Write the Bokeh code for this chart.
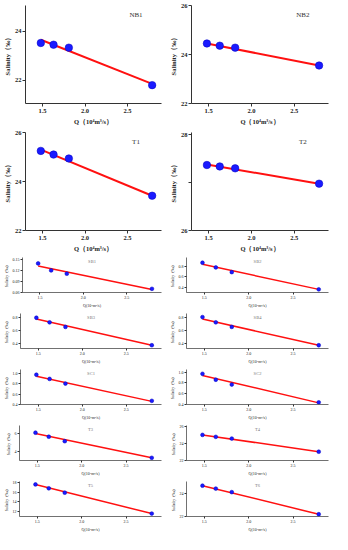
from bokeh.plotting import figure
from bokeh.layouts import column, row
from bokeh.models import FixedTicker, Range1d, Label, NumeralTickFormatter
from bokeh.embed import file_html
from bokeh.resources import INLINE

# ---------------- data ----------------
q = [1.48, 1.63, 1.81, 2.79]          # Q (10^4 m3/s)
q_fit = [1.48, 2.79]                  # extent of the fitted line
x_ticks = [1.5, 2.0, 2.5]

names = ["NB1", "NB2", "T1", "T2", "SB1", "SB2", "SB3", "SB4",
         "SC1", "SC2", "T3", "T4", "T5", "T6"]

sal_NB1 = [23.52, 23.45, 23.33, 21.80]
sal_NB2 = [24.45, 24.36, 24.28, 23.55]
sal_T1 = [25.25, 25.10, 24.94, 23.42]
sal_T2 = [27.37, 27.34, 27.30, 26.98]
sal_SB1 = [0.139, 0.120, 0.111, 0.070]
sal_SB2 = [0.87, 0.78, 0.69, 0.36]
sal_SB3 = [0.79, 0.72, 0.65, 0.37]
sal_SB4 = [0.80, 0.72, 0.65, 0.37]
sal_SC1 = [0.97, 0.89, 0.80, 0.47]
sal_SC2 = [0.97, 0.86, 0.77, 0.44]
sal_T3 = [6.1, 5.65, 5.15, 3.3]
sal_T4 = [25.0, 24.77, 24.57, 23.03]
sal_T5 = [17.6, 16.8, 15.9, 11.6]
sal_T6 = [24.73, 24.47, 24.16, 22.2]

fit_NB1 = [23.65, 21.85]
fit_NB2 = [24.45, 23.55]
fit_T1 = [25.30, 23.42]
fit_T2 = [27.38, 26.98]
fit_SB1 = [0.132, 0.068]
fit_SB2 = [0.84, 0.36]
fit_SB3 = [0.77, 0.37]
fit_SB4 = [0.77, 0.37]
fit_SC1 = [0.94, 0.46]
fit_SC2 = [0.94, 0.43]
fit_T3 = [6.0, 3.3]
fit_T4 = [25.0, 23.03]
fit_T5 = [17.6, 11.6]
fit_T6 = [24.73, 22.2]

yrange = {
    "NB1": (21.05, 25.05), "NB2": (22, 26), "T1": (22, 26), "T2": (26, 28.05),
    "SB1": (0.06, 0.155), "SB2": (0.30, 0.97), "SB3": (0.32, 0.855),
    "SB4": (0.32, 0.855), "SC1": (0.40, 1.07), "SC2": (0.40, 1.05),
    "T3": (3.0, 6.9), "T4": (22, 26.1), "T5": (11.0, 18.2), "T6": (22, 25.1),
}
yticks = {
    "NB1": [22, 24], "NB2": [22, 24, 26], "T1": [22, 24, 26], "T2": [26, 27, 28],
    "SB1": [0.06, 0.09, 0.12, 0.15], "SB2": [0.4, 0.6, 0.8],
    "SB3": [0.4, 0.6, 0.8], "SB4": [0.4, 0.6, 0.8],
    "SC1": [0.4, 0.6, 0.8, 1.0], "SC2": [0.4, 0.6, 0.8, 1.0],
    "T3": [4, 6], "T4": [22, 24, 26], "T5": [12, 14, 16, 18], "T6": [22, 24],
}
yfmt = {
    "NB1": "0", "NB2": "0", "T1": "0", "T2": "0", "SB1": "0.00", "SB2": "0.0",
    "SB3": "0.0", "SB4": "0.0", "SC1": "0.0", "SC2": "0.0", "T3": "0",
    "T4": "0", "T5": "0", "T6": "0",
}
hidden_labels = {"T2": [27]}

sal = dict(NB1=sal_NB1, NB2=sal_NB2, T1=sal_T1, T2=sal_T2, SB1=sal_SB1,
           SB2=sal_SB2, SB3=sal_SB3, SB4=sal_SB4, SC1=sal_SC1, SC2=sal_SC2,
           T3=sal_T3, T4=sal_T4, T5=sal_T5, T6=sal_T6)
fit = dict(NB1=fit_NB1, NB2=fit_NB2, T1=fit_T1, T2=fit_T2, SB1=fit_SB1,
           SB2=fit_SB2, SB3=fit_SB3, SB4=fit_SB4, SC1=fit_SC1, SC2=fit_SC2,
           T3=fit_T3, T4=fit_T4, T5=fit_T5, T6=fit_T6)

FONT = "Liberation Serif"


def panel(name, col, big):
    if big:
        h, top, bottom = 127, 5, 24
        tick_fs, title_fs, lab_fs = "6.5px", "6.5px", "7px"
        pt, lw = 7.5, 2.0
        lab_x, lab_frac = 2.6, 0.1
    else:
        h, top, bottom = 56, 3, 14
        tick_fs, title_fs, lab_fs = "4px", "4px", "4.5px"
        pt, lw = 3.8, 1.5
        lab_x, lab_frac = 2.1, 0.12
    left, right = (19, 5) if col == 0 else (20, 4)
    y0, y1 = yrange[name]
    p = figure(width=166, height=h, output_backend="svg", toolbar_location=None,
               x_range=Range1d(1.3, 2.9), y_range=Range1d(y0, y1),
               min_border_left=left, min_border_right=right,
               min_border_top=top, min_border_bottom=bottom)
    p.outline_line_color = None
    p.grid.visible = False
    p.background_fill_color = "white"

    p.line(q_fit, fit[name], line_color="#ff1010", line_width=lw)
    p.scatter(q, sal[name], size=pt, fill_color="#1a1aff",
              line_color="#0000c0", line_width=0.5)

    xa, ya = p.xaxis[0], p.yaxis[0]
    xa.ticker = FixedTicker(ticks=x_ticks)
    xa.formatter = NumeralTickFormatter(format="0.0")
    ya.ticker = FixedTicker(ticks=yticks[name])
    ya.formatter = NumeralTickFormatter(format=yfmt[name])
    if name in hidden_labels:
        ya.major_label_overrides = {v: "" for v in hidden_labels[name]}
    for ax in (xa, ya):
        ax.axis_line_color = "#333333"
        ax.axis_line_width = 1.0 if big else 0.7
        ax.major_tick_line_color = "#333333"
        ax.major_tick_out = 3 if big else 2
        ax.major_tick_in = 0
        ax.minor_tick_line_color = None
        ax.major_label_text_font = FONT
        ax.major_label_text_font_size = tick_fs
        ax.major_label_text_font_style = "bold" if big else "normal"
        ax.major_label_text_color = "#222222"
        ax.major_label_standoff = 1 if not big else 2
        ax.axis_label_text_font = FONT
        ax.axis_label_text_font_size = title_fs
        ax.axis_label_text_font_style = "bold" if big else "normal"
        ax.axis_label_text_color = "#222222"
        ax.axis_label_standoff = 1 if not big else 2
    ya.major_label_standoff = 1
    ya.axis_label_standoff = 1
    xa.axis_label = "Q（10⁴m³/s）" if big else "Q(10⁴m³/s)"
    ya.axis_label = "Salinity（‰）"

    p.add_layout(Label(x=lab_x, y=y1 - lab_frac * (y1 - y0), text=name,
                       text_font=FONT, text_font_size=lab_fs,
                       text_color="#333333" if big else "#777777",
                       text_align="center", text_baseline="middle"))
    return p


rows = []
for i in range(0, len(names), 2):
    big = i < 4
    rows.append(row(panel(names[i], 0, big), panel(names[i + 1], 1, big)))

layout = column(*rows)
open("out.html", "w").write(file_html(layout, INLINE))
